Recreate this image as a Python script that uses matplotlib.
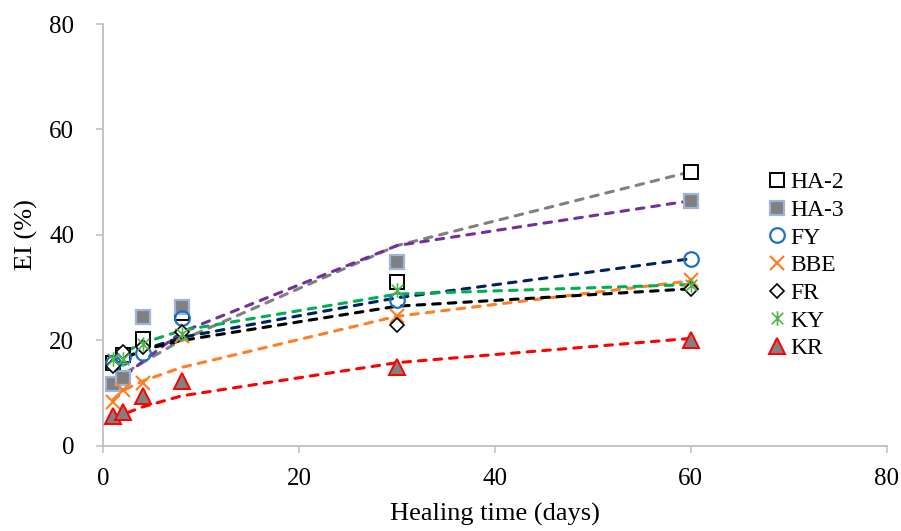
import numpy as np
import matplotlib
matplotlib.use("Agg")
import matplotlib.pyplot as plt
from matplotlib.path import Path

plt.rcParams["font.family"] = ["Liberation Serif", "DejaVu Serif"]

# ── Data ─────────────────────────────────────────────────────────────────────
days = [1, 2, 4, 8, 30, 60]

ha2 = [15.8, 17.2, 20.2, 25.3, 31.1, 52.0]
ha3 = [11.7, 12.9, 24.5, 26.4, 34.9, 46.5]
fy  = [15.7, 16.9, 17.6, 24.2, 27.7, 35.4]
bbe = [8.4, 10.7, 12.0, 20.9, 24.6, 31.5]
fr  = [15.2, 17.9, 18.8, 21.7, 22.9, 29.8]
ky  = [16.4, 16.5, 19.3, 21.2, 29.6, 30.5]
kr  = [5.7, 6.5, 9.4, 12.3, 15.0, 20.1]

# fitted curves, evaluated at the same healing times
ha2_fit = [12.5, 13.6, 15.8, 20.1, 38.0, 52.0]
ha3_fit = [11.5, 13.0, 16.0, 21.6, 38.0, 46.5]
fy_fit  = [15.5, 16.5, 18.2, 20.6, 28.1, 35.5]
bbe_fit = [8.8, 10.5, 12.3, 14.9, 24.6, 31.3]
fr_fit  = [15.3, 16.5, 18.2, 20.0, 26.5, 29.8]
ky_fit  = [16.6, 17.6, 19.5, 21.9, 28.8, 30.6]
kr_fit  = [5.2, 6.0, 7.4, 9.5, 15.8, 20.4]

labels = ["HA-2", "HA-3", "FY", "BBE", "FR", "KY", "KR"]

# asterisk marker: X plus a vertical bar
star = Path([(-1, -1), (1, 1), (-1, 1), (1, -1), (0, -1.25), (0, 1.25)],
            [Path.MOVETO, Path.LINETO, Path.MOVETO, Path.LINETO,
             Path.MOVETO, Path.LINETO])

series = [
    (ha2, ha2_fit, "#808080", dict(marker="s", ms=10, mfc="white", mec="black", mew=1.4)),
    (ha3, ha3_fit, "#7030A0", dict(marker="s", ms=10.5, mfc="#808080", mec="#9FB4DC", mew=1.6)),
    (fy,  fy_fit,  "#002060", dict(marker="o", ms=10.5, mfc="none", mec="#1F70C8", mew=1.6)),
    (bbe, bbe_fit, "#FF7F27", dict(marker="x", ms=10.5, mec="#FF7F27", mew=1.6)),
    (fr,  fr_fit,  "black",   dict(marker="D", ms=7.5, mfc="white", mec="black", mew=1.2)),
    (ky,  ky_fit,  "#00B050", dict(marker=star, ms=10.5, mfc="none", mec="#4CB84C", mew=1.2)),
    (kr,  kr_fit,  "#FF0000", dict(marker="^", ms=11, mfc="#808080", mec="#FF0000", mew=1.4)),
]

fig = plt.figure(figsize=(9.01, 5.31), dpi=100)
ax = fig.add_axes([0.1147, 0.1601, 0.8694, 0.7947])

for vals, fit, lc, mk in series:
    ax.plot(days, fit, color=lc, linewidth=2.2, linestyle=(0, (2.5, 2.6)),
            dash_capstyle="round", zorder=2)

handles = []
for (vals, fit, lc, mk), lab in zip(series, labels):
    h, = ax.plot(days, vals, linestyle="none", zorder=3, label=lab, **mk)
    handles.append(h)

ax.set_xlim(0, 80)
ax.set_ylim(0, 80)
ax.set_xticks([0, 20, 40, 60, 80])
ax.set_yticks([0, 20, 40, 60, 80])
ax.set_xlabel("Healing time (days)", fontsize=19, labelpad=9)
ax.set_ylabel("EI (%)", fontsize=19, labelpad=8)
ax.tick_params(labelsize=18, length=5, width=1.1, color="#BFBFBF")
ax.tick_params(axis="y", pad=16)
ax.tick_params(axis="x", pad=11)
for s in ["top", "right"]:
    ax.spines[s].set_visible(False)
for s in ["left", "bottom"]:
    ax.spines[s].set_color("#BFBFBF")
    ax.spines[s].set_linewidth(1.3)

fig.legend(handles=handles, loc="center left", bbox_to_anchor=(0.8532, 0.5),
           frameon=False, fontsize=17, handlelength=0.7, handletextpad=0.2,
           labelspacing=0.26, borderpad=0, borderaxespad=0)

plt.savefig("out.png", dpi=100)
